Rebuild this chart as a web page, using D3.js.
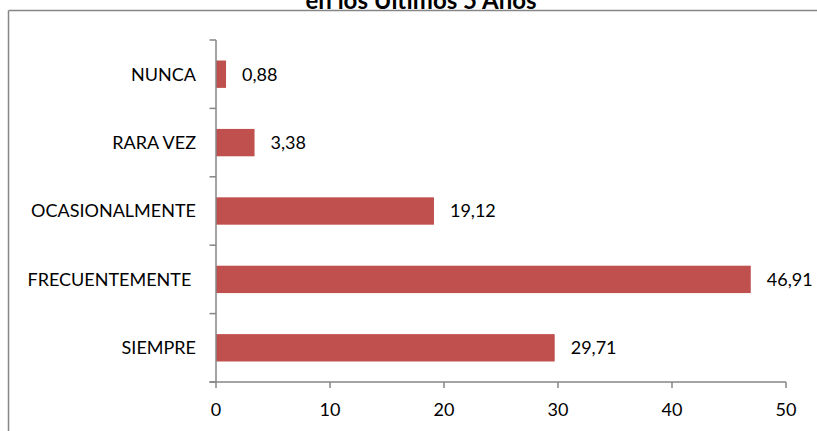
<!DOCTYPE html>
<html><head><meta charset="utf-8">
<script src="https://cdn.jsdelivr.net/npm/d3@7"></script>
<style>html,body{margin:0;padding:0;background:#fff;overflow:hidden}text{font-family:Lato,"Open Sans",sans-serif}</style>
</head><body>
<svg id="c" width="817" height="431"></svg>
<script>
const categories = ["NUNCA", "RARA VEZ", "OCASIONALMENTE", "FRECUENTEMENTE ", "SIEMPRE"];
const values = [0.88, 3.38, 19.12, 46.91, 29.71];
const valueLabels = ["0,88", "3,38", "19,12", "46,91", "29,71"];
const xTicks = [0, 10, 20, 30, 40, 50];
const titleText = "en los Últimos 5 Años";

const svg = d3.select("#c");
const gray = "#868686";
const fs = 18;
const x = d3.scaleLinear().domain([0, 50]).range([216, 786]);
const y = d3.scaleBand().domain(categories).range([40, 382]).paddingInner(0.6).paddingOuter(0.3);
const yEdges = d3.scaleLinear().domain([0, categories.length]).range([40, 382]);

// chart border (top and left visible)
svg.append("line").attr("x1", 8.5).attr("x2", 817).attr("y1", 10.5).attr("y2", 10.5).attr("stroke", gray).attr("stroke-width", 1.5);
svg.append("line").attr("x1", 8.5).attr("x2", 8.5).attr("y1", 10.5).attr("y2", 431).attr("stroke", gray).attr("stroke-width", 1.5);

// title (bottom line visible)
svg.append("text").attr("x", 421).attr("y", 8.5).attr("text-anchor", "middle")
  .attr("font-weight", "bold").attr("font-size", 24).attr("fill", "#000").text(titleText);

// bars
svg.selectAll("rect.bar").data(values).enter().append("rect").attr("class", "bar")
  .attr("x", x(0)).attr("y", (d, i) => y(categories[i]))
  .attr("width", d => x(d) - x(0)).attr("height", y.bandwidth())
  .attr("fill", "#C0504D");

// value labels
svg.selectAll("text.val").data(values).enter().append("text").attr("class", "val")
  .attr("x", d => x(d) + 16).attr("y", (d, i) => y(categories[i]) + y.bandwidth() / 2)
  .attr("dy", "0.35em").attr("font-size", fs).attr("fill", "#000")
  .text((d, i) => valueLabels[i]);

// y axis
const ya = svg.append("g");
ya.append("line").attr("x1", 216).attr("x2", 216).attr("y1", 40).attr("y2", 382).attr("stroke", gray).attr("stroke-width", 1.5);
ya.selectAll("line.t").data(d3.range(categories.length + 1)).enter().append("line").attr("class", "t")
  .attr("x1", 209.5).attr("x2", 216).attr("y1", d => yEdges(d)).attr("y2", d => yEdges(d)).attr("stroke", gray).attr("stroke-width", 1.5);
ya.selectAll("text").data(categories).enter().append("text")
  .attr("x", 196).attr("y", d => y(d) + y.bandwidth() / 2).attr("dy", "0.35em")
  .attr("text-anchor", "end").attr("font-size", fs).attr("fill", "#000")
  .style("white-space", "pre").text(d => d);

// x axis
const xa = svg.append("g");
xa.append("line").attr("x1", 209.5).attr("x2", 786).attr("y1", 382).attr("y2", 382).attr("stroke", gray).attr("stroke-width", 1.5);
xa.selectAll("line.t").data(xTicks).enter().append("line").attr("class", "t")
  .attr("x1", d => x(d)).attr("x2", d => x(d)).attr("y1", 382).attr("y2", 388).attr("stroke", gray).attr("stroke-width", 1.5);
xa.selectAll("text").data(xTicks).enter().append("text")
  .attr("x", d => x(d)).attr("y", 410).attr("dy", "0.35em").attr("text-anchor", "middle")
  .attr("font-size", fs).attr("fill", "#000").text(d => d);
</script>
</body></html>
